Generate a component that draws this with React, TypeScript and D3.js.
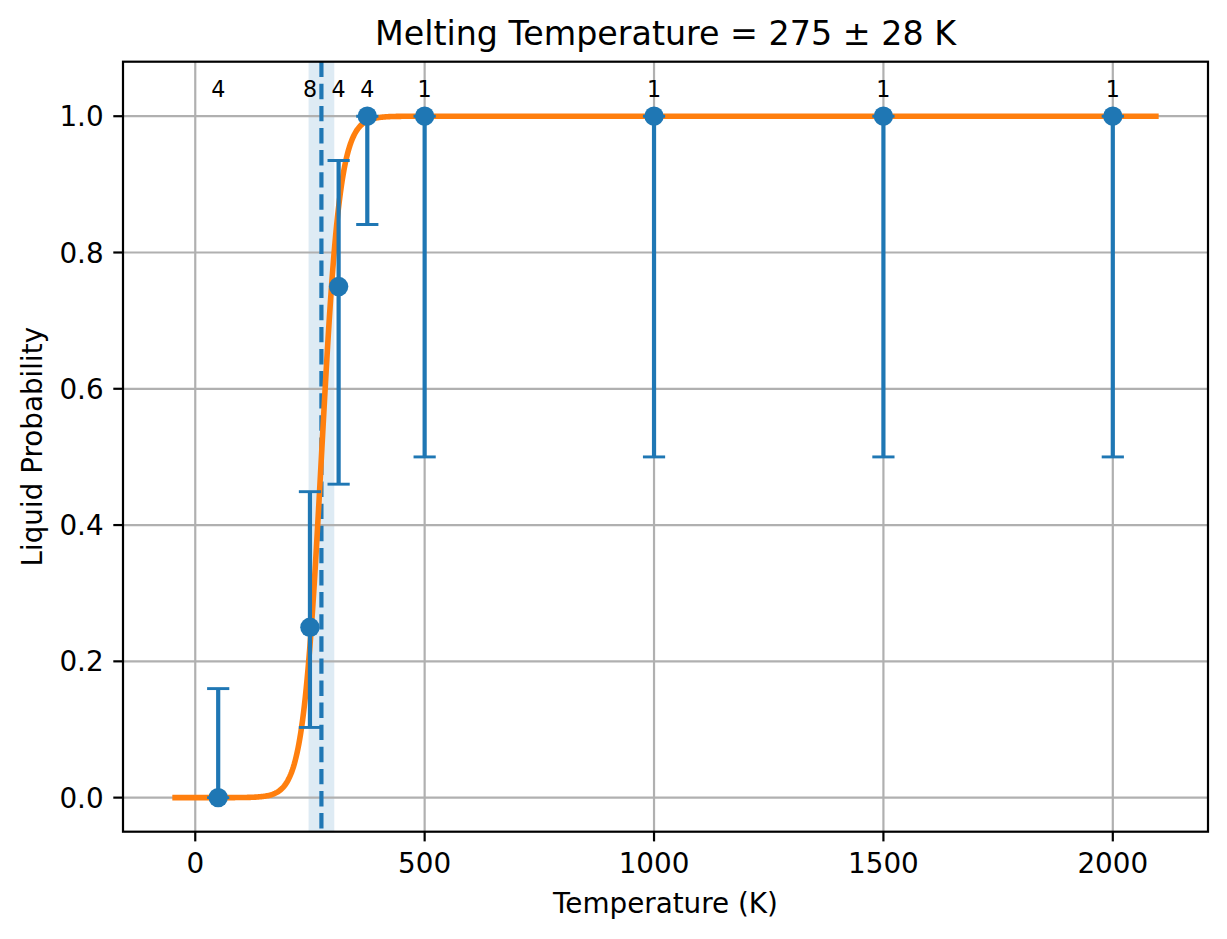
import React, { useEffect, useRef } from "react";
import * as d3 from "d3";

// measured points
const temps = [50, 250, 312.5, 375, 500, 1000, 1500, 2000];
const probs = [0, 0.25, 0.75, 1, 1, 1, 1, 1];
const lowerBounds = [0, 0.103, 0.46, 0.841, 0.5, 0.5, 0.5, 0.5];
const upperBounds = [0.16, 0.449, 0.935, 1, 1, 1, 1, 1];
const counts = [4, 8, 4, 4, 1, 1, 1, 1];

// fitted sigmoid
const meltT = 275;
const meltErr = 28;
const fitWidth = 20;
const fitRange = [-50, 2100];

const xTicks = [0, 500, 1000, 1500, 2000];
const yTicks = [0, 0.2, 0.4, 0.6, 0.8, 1.0];

const W = 1227;
const H = 939;
const FONT = "DejaVu Sans, sans-serif";

const App: React.FC = () => {
    const ref = useRef<SVGSVGElement>(null);

    useEffect(() => {
        const svg = d3.select(ref.current);
        svg.selectAll("*").remove();

        const left = 123, right = 1208, top = 61.7, bottom = 831.7;

        const x = d3.scaleLinear().domain([-157.5, 2207.5]).range([left, right]);
        const y = d3.scaleLinear().domain([-0.05, 1.08]).range([bottom, top]);

        const blue = "#1f77b4";
        const orange = "#ff7f0e";

        svg.append("defs")
            .append("clipPath")
            .attr("id", "clip")
            .append("rect")
            .attr("x", left)
            .attr("y", top)
            .attr("width", right - left)
            .attr("height", bottom - top);

        const plot = svg.append("g").attr("clip-path", "url(#clip)");

        // uncertainty band
        plot.append("rect")
            .attr("x", x(meltT - meltErr))
            .attr("y", top)
            .attr("width", x(meltT + meltErr) - x(meltT - meltErr))
            .attr("height", bottom - top)
            .attr("fill", blue)
            .attr("fill-opacity", 0.15);

        // grid
        plot.selectAll(".gx")
            .data(xTicks)
            .enter()
            .append("line")
            .attr("x1", (d) => x(d))
            .attr("x2", (d) => x(d))
            .attr("y1", top)
            .attr("y2", bottom)
            .attr("stroke", "#b0b0b0")
            .attr("stroke-width", 2.2);
        plot.selectAll(".gy")
            .data(yTicks)
            .enter()
            .append("line")
            .attr("x1", left)
            .attr("x2", right)
            .attr("y1", (d) => y(d))
            .attr("y2", (d) => y(d))
            .attr("stroke", "#b0b0b0")
            .attr("stroke-width", 2.2);

        // melting temperature line
        plot.append("line")
            .attr("x1", x(meltT))
            .attr("x2", x(meltT))
            .attr("y1", top)
            .attr("y2", bottom)
            .attr("stroke", blue)
            .attr("stroke-width", 4.2)
            .attr("stroke-dasharray", "15.4,6.7");

        // fit curve
        const curveT = d3.range(fitRange[0], fitRange[1] + 0.1, 2);
        const line = d3
            .line<number>()
            .x((t) => x(t))
            .y((t) => y(1 / (1 + Math.exp(-(t - meltT) / fitWidth))));
        plot.append("path")
            .datum(curveT)
            .attr("d", line)
            .attr("fill", "none")
            .attr("stroke", orange)
            .attr("stroke-width", 5.6);

        // error bars
        const idx = d3.range(temps.length);
        const eb = plot.append("g").attr("stroke", blue);
        idx.forEach((i) => {
            eb.append("line")
                .attr("x1", x(temps[i]))
                .attr("x2", x(temps[i]))
                .attr("y1", y(lowerBounds[i]))
                .attr("y2", y(upperBounds[i]))
                .attr("stroke-width", 4.2);
            [lowerBounds[i], upperBounds[i]].forEach((v) => {
                eb.append("line")
                    .attr("x1", x(temps[i]) - 11.1)
                    .attr("x2", x(temps[i]) + 11.1)
                    .attr("y1", y(v))
                    .attr("y2", y(v))
                    .attr("stroke-width", 2.9);
            });
        });

        plot.selectAll(".pt")
            .data(idx)
            .enter()
            .append("circle")
            .attr("cx", (i) => x(temps[i]))
            .attr("cy", (i) => y(probs[i]))
            .attr("r", 9.7)
            .attr("fill", blue);

        // sample counts
        svg.selectAll(".cnt")
            .data(idx)
            .enter()
            .append("text")
            .attr("x", (i) => x(temps[i]))
            .attr("y", y(1.028))
            .attr("text-anchor", "middle")
            .attr("font-family", FONT)
            .attr("font-size", 22.2)
            .text((i) => String(counts[i]));

        // axes frame
        svg.append("rect")
            .attr("x", left)
            .attr("y", top)
            .attr("width", right - left)
            .attr("height", bottom - top)
            .attr("fill", "none")
            .attr("stroke", "#000")
            .attr("stroke-width", 2.2);

        // x ticks
        const xt = svg.append("g");
        xTicks.forEach((t) => {
            xt.append("line")
                .attr("x1", x(t))
                .attr("x2", x(t))
                .attr("y1", bottom)
                .attr("y2", bottom + 9.7)
                .attr("stroke", "#000")
                .attr("stroke-width", 2.2);
            xt.append("text")
                .attr("x", x(t))
                .attr("y", bottom + 41.5)
                .attr("text-anchor", "middle")
                .attr("font-family", FONT)
                .attr("font-size", 27.8)
                .text(String(t));
        });

        // y ticks
        const yt = svg.append("g");
        yTicks.forEach((t) => {
            yt.append("line")
                .attr("x1", left - 9.7)
                .attr("x2", left)
                .attr("y1", y(t))
                .attr("y2", y(t))
                .attr("stroke", "#000")
                .attr("stroke-width", 2.2);
            yt.append("text")
                .attr("x", left - 19.4)
                .attr("y", y(t))
                .attr("dy", "0.36em")
                .attr("text-anchor", "end")
                .attr("font-family", FONT)
                .attr("font-size", 27.8)
                .text(t.toFixed(1));
        });

        // labels
        svg.append("text")
            .attr("x", (left + right) / 2)
            .attr("y", 913.3)
            .attr("text-anchor", "middle")
            .attr("font-family", FONT)
            .attr("font-size", 27.8)
            .text("Temperature (K)");

        svg.append("text")
            .attr("transform", `translate(42,${(top + bottom) / 2}) rotate(-90)`)
            .attr("text-anchor", "middle")
            .attr("font-family", FONT)
            .attr("font-size", 27.8)
            .text("Liquid Probability");

        svg.append("text")
            .attr("x", (left + right) / 2)
            .attr("y", 45)
            .attr("text-anchor", "middle")
            .attr("font-family", FONT)
            .attr("font-size", 33.3)
            .text(`Melting Temperature = ${meltT} \u00b1 ${meltErr} K`);
    }, []);

    return (
        <svg
            ref={ref}
            width={W}
            height={H}
            style={{ position: "absolute", left: 0, top: 0, background: "#fff" }}
        ></svg>
    );
};

export default App;
